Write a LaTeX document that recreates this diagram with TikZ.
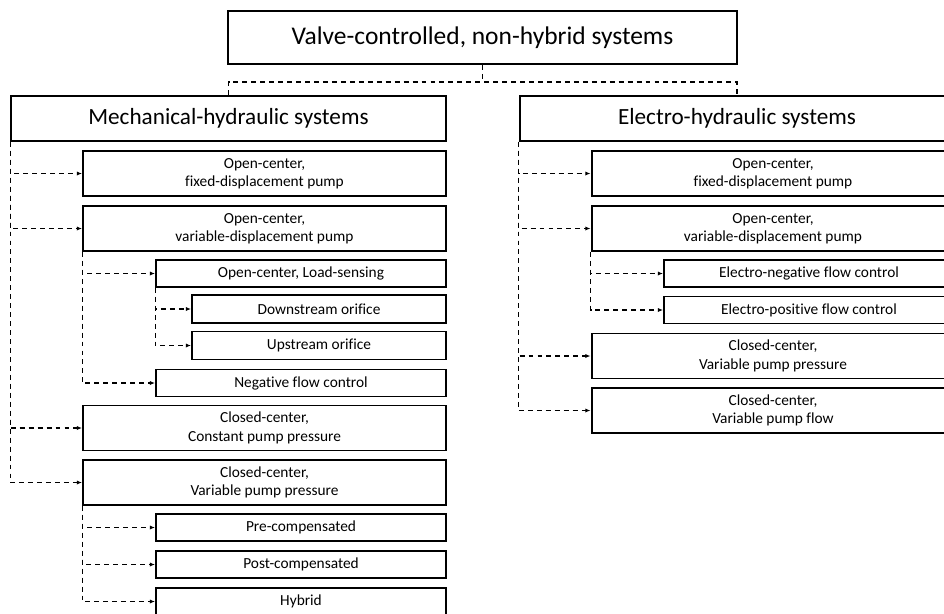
\documentclass[tikz,border=0pt]{standalone}
\usepackage{fontspec}
\setmainfont{Carlito}[Ligatures=NoCommon]
\usetikzlibrary{arrows.meta}

\tikzset{
  box/.style={draw, line width=1.1pt, inner sep=0pt, align=center, font=\fontsize{8.75}{10.4}\selectfont},
  rootbox/.style={box, minimum width=10.18cm, minimum height=1.06cm, font=\fontsize{14.5}{17}\selectfont},
  groupbox/.style={box, minimum width=8.7cm, minimum height=0.9cm, font=\fontsize{13.2}{16}\selectfont},
  widebox/.style={box, minimum width=7.26cm, minimum height=0.9cm},
  midbox/.style={box, minimum width=5.8cm, minimum height=0.54cm},
  smallbox/.style={box, minimum width=5.08cm, minimum height=0.56cm},
  link/.style={line width=0.6pt, dash pattern=on 2.8pt off 2.3pt},
  conn/.style={link, -{Latex[length=3pt,width=2.4pt]}},
}

\begin{document}
\begin{tikzpicture}[x=0.02cm, y=-0.02cm]
  \useasboundingbox (0,0) rectangle (944,613);
  \clip (0,0) rectangle (944,613);

  \node[rootbox] (root) at (482.5,37.5) {Valve-controlled, non-hybrid systems};
  \node[groupbox] (mech) at (228.5,118.5) {Mechanical-hydraulic systems};
  \node[groupbox] (elec) at (737,118.5) {Electro-hydraulic systems};

  % mechanical-hydraulic branch
  \node[widebox] (mofix) at (264.5,173.5) {Open-center,\\fixed-displacement pump};
  \node[widebox] (movar) at (264.5,228.5) {Open-center,\\variable-displacement pump};
  \node[midbox] (mls) at (301,273.5) {Open-center, Load-sensing};
  \node[smallbox] (mdown) at (319,309) {Downstream orifice};
  \node[smallbox] (mup) at (319,345.5) {Upstream orifice};
  \node[midbox] (mneg) at (301,383) {Negative flow control};
  \node[widebox] (mccp) at (264.5,428) {Closed-center,\\Constant pump pressure};
  \node[widebox] (mvpp) at (264.5,482.5) {Closed-center,\\Variable pump pressure};
  \node[midbox] (mpre) at (301,527.5) {Pre-compensated};
  \node[midbox] (mpost) at (301,564.5) {Post-compensated};
  \node[midbox] (mhyb) at (301,601.5) {Hybrid};

  % electro-hydraulic branch
  \node[widebox] (eofix) at (773,173.5) {Open-center,\\fixed-displacement pump};
  \node[widebox] (eovar) at (773,228.5) {Open-center,\\variable-displacement pump};
  \node[midbox] (eneg) at (809,273.5) {Electro-negative flow control};
  \node[midbox] (epos) at (809,310) {Electro-positive flow control};
  \node[widebox] (evpp) at (773,356) {Closed-center,\\Variable pump pressure};
  \node[widebox] (evpf) at (773,410.5) {Closed-center,\\Variable pump flow};

  \coordinate (split) at (482.5,82);
  \draw[link] (root.south) -- (split);
  \draw[link] (mech.north) |- (split) -| (elec.north);

  \foreach \child in {mofix,movar,mccp,mvpp}
    \draw[conn] (mech.south west) |- (\child.west);
  \foreach \child in {mls,mneg}
    \draw[conn] (movar.south west) |- (\child.west);
  \foreach \child in {mdown,mup}
    \draw[conn] (mls.south west) |- (\child.west);
  \foreach \child in {mpre,mpost,mhyb}
    \draw[conn] (mvpp.south west) |- (\child.west);

  \foreach \child in {eofix,eovar,evpp,evpf}
    \draw[conn] (elec.south west) |- (\child.west);
  \foreach \child in {eneg,epos}
    \draw[conn] (eovar.south west) |- (\child.west);
\end{tikzpicture}
\end{document}
